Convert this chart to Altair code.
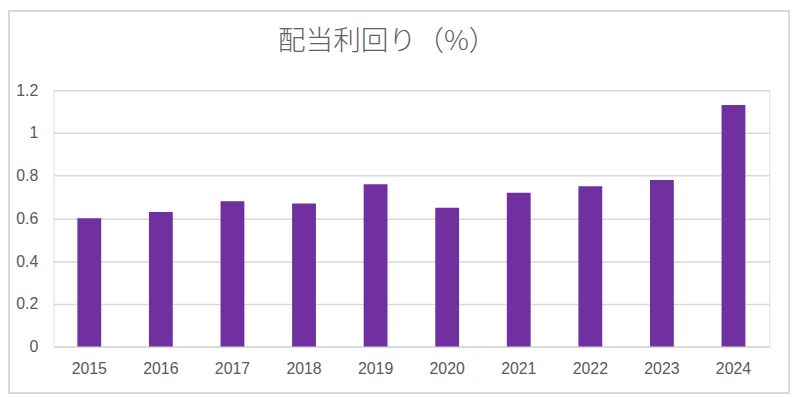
import altair as alt
import pandas as pd

years = ["2015", "2016", "2017", "2018", "2019", "2020", "2021", "2022", "2023", "2024"]
yields = [0.60, 0.63, 0.68, 0.67, 0.76, 0.65, 0.72, 0.75, 0.78, 1.13]
y_ticks = [0, 0.2, 0.4, 0.6, 0.8, 1.0, 1.2]
title_text = ["配当利回り（%）"]

df = pd.DataFrame({"year": years, "yield": yields})

label_font = "Liberation Sans"
gray = "#595959"
grid = "#d9d9d9"

bars = alt.Chart(df).mark_bar(color="#7030A0").encode(
    x=alt.X(
        "year:N",
        sort=years,
        scale=alt.Scale(paddingInner=0.667, paddingOuter=0.333),
        axis=alt.Axis(
            title=None,
            labelAngle=0,
            ticks=False,
            domain=True,
            domainColor=grid,
            domainWidth=1.5,
            labelPadding=14,
            labelFont=label_font,
            labelFontSize=16,
            labelColor=gray,
        ),
    ),
    y=alt.Y(
        "yield:Q",
        scale=alt.Scale(domain=[0, 1.2], nice=False),
        axis=alt.Axis(
            title=None,
            values=y_ticks,
            labelExpr="format(datum.value, '~g')",
            ticks=False,
            domain=False,
            grid=True,
            gridColor=grid,
            gridWidth=1.5,
            labelPadding=16,
            labelFont=label_font,
            labelFontSize=16,
            labelColor=gray,
        ),
    ),
)

border_df = pd.DataFrame({"k": [0]})
border = alt.Chart(border_df).mark_rect(
    fill=None, stroke=grid, strokeWidth=2
).encode(
    x=alt.value(-45),
    x2=alt.value(743),
    y=alt.value(-80),
    y2=alt.value(306),
)

title_df = pd.DataFrame({"t": title_text})
title = alt.Chart(title_df).mark_text(
    font="Noto Sans CJK JP",
    fontSize=28,
    fontWeight=300,
    color="#636363",
    align="center",
    baseline="alphabetic",
).encode(
    text="t:N",
    x=alt.value(337),
    y=alt.value(-41),
)

chart = alt.layer(border, bars, title).properties(
    width=723,
    height=259,
    padding={"left": 46, "top": 81, "right": 23, "bottom": 49},
    autosize=alt.AutoSizeParams(type="none"),
).configure_view(stroke=None).configure(background="white")

chart.save("out.html", embed_options={"renderer": "svg", "actions": False})
